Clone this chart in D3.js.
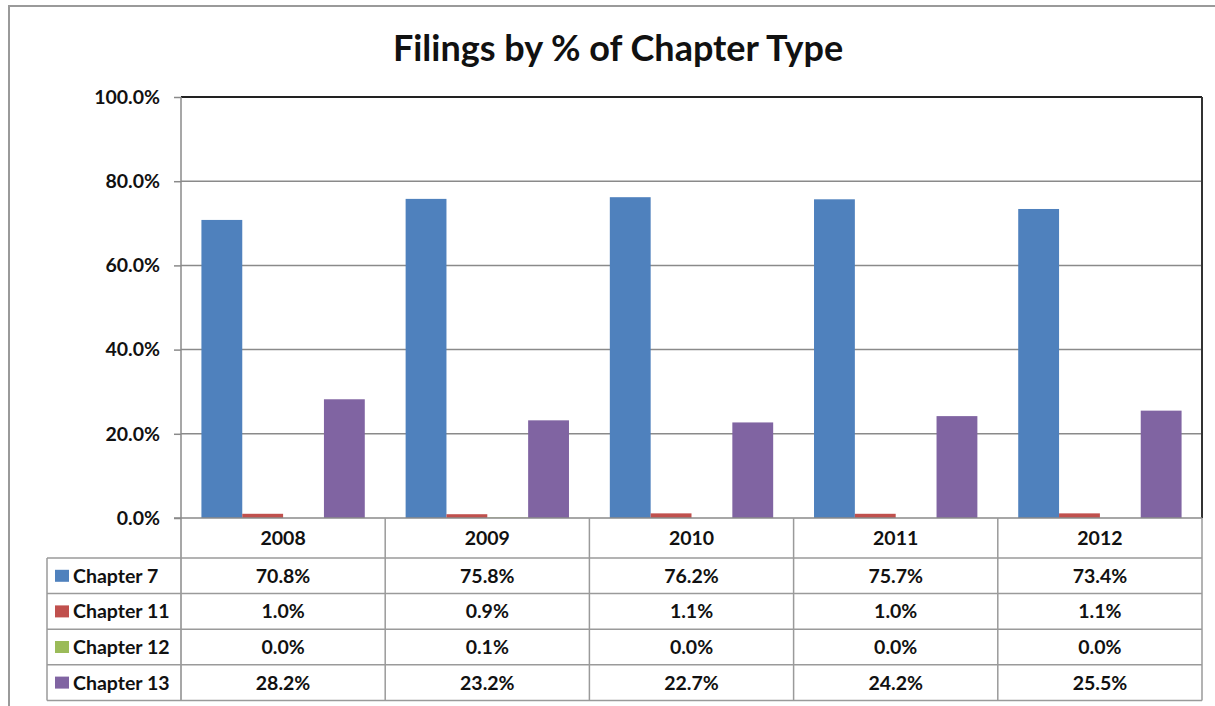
<!DOCTYPE html>
<html><head><meta charset="utf-8">
<script src="https://cdn.jsdelivr.net/npm/d3@7"></script>
<style>html,body{margin:0;padding:0;background:#fff;}svg{display:block;font-family:Lato,"Open Sans",sans-serif;}</style>
</head><body><svg id="c" width="1215" height="706"></svg>
<script>
const years = ["2008","2009","2010","2011","2012"];
const seriesNames = ["Chapter 7","Chapter 11","Chapter 12","Chapter 13"];
const chapter7 = [70.8,75.8,76.2,75.7,73.4];
const chapter11 = [1.0,0.9,1.1,1.0,1.1];
const chapter12 = [0.0,0.1,0.0,0.0,0.0];
const chapter13 = [28.2,23.2,22.7,24.2,25.5];
const colors = ["#4F81BD","#C0504D","#9BBB59","#8064A2"];
const yTicks = [0,20,40,60,80,100];
const title = "Filings by % of Chapter Type";

const seriesVals = [chapter7,chapter11,chapter12,chapter13];
const svg = d3.select("#c");
const W=1215,H=706;
const L=181,R=1202,T=97,B=518;
const tableL=47, rowH=35.6, headerB=558;
const fs = 19.5;

// outer border
svg.append("path").attr("d",`M9,${H} L9,6 L${W},6`).attr("fill","none").attr("stroke","#9a9a9a").attr("stroke-width",2);

svg.append("text").attr("x",618).attr("y",61).attr("text-anchor","middle")
  .attr("font-size",36).attr("font-weight","bold").attr("fill","#111").text(title);

const x = d3.scaleBand().domain(years).range([L,R]).paddingInner(0).paddingOuter(0);
const x1 = d3.scaleBand().domain(seriesNames).range([0,x.bandwidth()]).paddingInner(0).paddingOuter(0.5);
const y = d3.scaleLinear().domain([0,100]).range([B,T]);

// gridlines
svg.append("g").selectAll("line").data(yTicks.filter(d=>d>0)).join("line")
  .attr("x1",L).attr("x2",R).attr("y1",d=>y(d)).attr("y2",d=>y(d))
  .attr("stroke",d=>d===100?"#222":"#8a8a8a").attr("stroke-width",d=>d===100?2:1.5);
// right border
svg.append("line").attr("x1",R).attr("x2",R).attr("y1",T).attr("y2",B).attr("stroke","#333").attr("stroke-width",2);

// bars
const g = svg.append("g");
years.forEach((yr,i)=>{
  seriesVals.forEach((vals,s)=>{
    g.append("rect").attr("x",x(yr)+x1(seriesNames[s])).attr("width",x1.bandwidth())
      .attr("y",y(vals[i])).attr("height",B-y(vals[i])).attr("fill",colors[s]);
  });
});

// y axis
const yAxis = d3.axisLeft(y).tickValues(yTicks).tickFormat(d=>d3.format(".1f")(d)+"%").tickSize(7).tickPadding(14);
const ya = svg.append("g").attr("transform",`translate(${L},0)`).call(yAxis);
ya.select(".domain").remove();
ya.selectAll(".tick line").attr("stroke","#8a8a8a").attr("stroke-width",1.5);
ya.selectAll(".tick text").attr("font-size",fs).attr("font-weight","bold").attr("fill","#111").attr("font-family","Lato,sans-serif");

// axis vertical line extends through table
svg.append("line").attr("x1",L).attr("x2",L).attr("y1",T).attr("y2",700).attr("stroke","#8a8a8a").attr("stroke-width",1.5);
// baseline
svg.append("line").attr("x1",L-7).attr("x2",R).attr("y1",B).attr("y2",B).attr("stroke","#8a8a8a").attr("stroke-width",1.5);

// table
const tg = svg.append("g");
const rowTops = seriesNames.map((d,i)=>headerB+i*rowH);
const tableBottom = headerB+4*rowH;
years.forEach(yr=>{
  tg.append("line").attr("x1",x(yr)+x.bandwidth()).attr("x2",x(yr)+x.bandwidth()).attr("y1",B).attr("y2",tableBottom)
    .attr("stroke","#9a9a9a").attr("stroke-width",1.5);
});
tg.append("line").attr("x1",tableL).attr("x2",tableL).attr("y1",headerB).attr("y2",tableBottom).attr("stroke","#9a9a9a").attr("stroke-width",1.5);
[...rowTops, tableBottom].forEach(yy=>{
  tg.append("line").attr("x1",tableL).attr("x2",R).attr("y1",yy).attr("y2",yy).attr("stroke","#9a9a9a").attr("stroke-width",1.5);
});
years.forEach(yr=>{
  tg.append("text").attr("x",x(yr)+x.bandwidth()/2).attr("y",(B+headerB)/2+7).attr("text-anchor","middle")
    .attr("font-size",fs).attr("font-weight","bold").attr("fill","#111").text(yr);
});
seriesNames.forEach((s,si)=>{
  const cy = rowTops[si]+rowH/2;
  tg.append("rect").attr("x",tableL+8).attr("y",cy-6).attr("width",14).attr("height",12).attr("fill",colors[si]);
  tg.append("text").attr("x",tableL+26).attr("y",cy+7).attr("font-size",fs).attr("font-weight","bold").attr("fill","#111").text(s);
  years.forEach((yr,i)=>{
    tg.append("text").attr("x",x(yr)+x.bandwidth()/2).attr("y",cy+7).attr("text-anchor","middle")
      .attr("font-size",fs).attr("font-weight","bold").attr("fill","#111").text(d3.format(".1f")(seriesVals[si][i])+"%");
  });
});
</script></body></html>
